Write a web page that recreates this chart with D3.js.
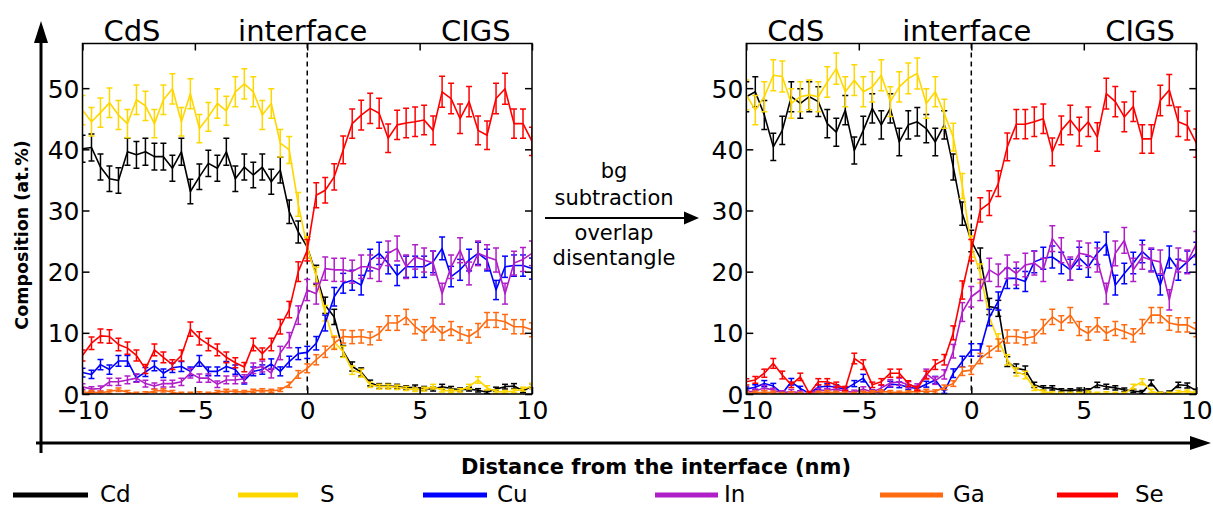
<!DOCTYPE html>
<html>
<head>
<meta charset="utf-8">
<script src="https://cdn.jsdelivr.net/npm/d3@7"></script>
<style>
  body { margin: 0; background: #fff; }
  text { font-family: "DejaVu Sans", sans-serif; }
</style>
</head>
<body>
<svg id="chart" width="1213" height="507"></svg>
<script>
// Composition profiles across the CdS/CIGS interface, before (raw) and after
// background subtraction + overlap disentangling (corr). One point every 0.4 nm.
const distance = [-10, -9.6, -9.2, -8.8, -8.4, -8, -7.6, -7.2, -6.8, -6.4, -6, -5.6, -5.2, -4.8, -4.4, -4,
  -3.6, -3.2, -2.8, -2.4, -2, -1.6, -1.2, -0.8, -0.4, 0, 0.4, 0.8, 1.2, 1.6, 2, 2.4, 2.8, 3.2, 3.6, 4,
  4.4, 4.8, 5.2, 5.6, 6, 6.4, 6.8, 7.2, 7.6, 8, 8.4, 8.8, 9.2, 9.6, 10];

const elements = ["Cd", "S", "Cu", "In", "Ga", "Se"];
const colors = ["#000000", "#ffd700", "#0000ff", "#b01ec8", "#ff6a10", "#ff0000"];
// error bar half-height ~ factor * sqrt(value)
const errFactor = [0.35, 0.35, 0.38, 0.42, 0.35, 0.36];

const xTicks = [-10, -5, 0, 5, 10];
const yTicks = [0, 10, 20, 30, 40, 50];
const regionLabels = ["CdS", "interface", "CIGS"];
const arrowText = ["bg", "subtraction", "overlap", "disentangle"];
const xTitle = "Distance from the interface (nm)";
const yTitle = "Composition (at.%)";

// ---- left panel (raw) ----
const cdRaw = [40.1, 40.3, 37.1, 35.2, 34.9, 39.6, 39.1, 39.6, 38.8, 38.8, 36.9, 39.6, 33.1, 35.5, 37.7, 36.9,
  39.6, 35.2, 37.1, 35.8, 37.1, 34.7, 36.6, 29.8, 26.5, 24.0, 19.5, 14.5, 12.6, 7.0, 4.5, 3.6, 1.8, 1.3, 1.3, 1.2,
  1.0, 1.1, 0.9, 0.8, 1.2, 0.9, 0.7, 0.8, 0.6, 0.3, 0.8, 1.2, 1.3, 0.5, 1.3];
const sRaw = [46.4, 44.5, 46.0, 47.6, 45.6, 44.2, 48.1, 47.1, 44.2, 48.1, 49.9, 44.5, 49.1, 43.4, 45.3, 47.5,
  46.3, 49.4, 50.7, 49.4, 45.6, 47.5, 41.0, 39.9, 31.0, 24.0, 19.2, 13.2, 8.5, 6.9, 3.9, 3.4, 1.5, 1.2, 1.2, 1.1,
  0.9, 0.7, 0.8, 1.2, 0.6, 0.5, 0.6, 1.2, 2.3, 1.0, 0.4, 0.3, 0.5, 0.8, 1.3];
const cuRaw = [3.5, 3.2, 4.8, 4.0, 5.4, 5.4, 2.6, 3.6, 4.6, 3.4, 4.3, 4.5, 3.7, 5.4, 3.7, 3.7,
  4.5, 4.0, 2.2, 3.7, 4.0, 4.9, 3.7, 5.3, 6.6, 6.8, 8.3, 11.6, 15.9, 18.1, 18.6, 17.8, 21.9, 23.0, 21.4, 19.4,
  20.8, 20.8, 20.8, 21.6, 23.8, 19.2, 20.3, 21.9, 23.0, 21.9, 17.0, 20.8, 21.0, 21.0, 20.5];
const inRaw = [1.2, 0.8, 0.9, 2.0, 2.0, 2.3, 2.6, 1.7, 1.3, 1.7, 1.7, 2.0, 3.4, 2.6, 2.6, 1.6,
  2.3, 2.3, 2.5, 4.2, 4.5, 3.4, 6.7, 8.8, 12.9, 17.0, 16.4, 20.5, 20.3, 20.3, 20.0, 20.8, 20.8, 20.3, 23.0, 23.8,
  20.8, 22.4, 21.9, 21.4, 16.4, 20.8, 23.5, 19.7, 23.0, 22.4, 21.9, 16.4, 21.4, 22.0, 23.0];
const gaRaw = [0.2, 0.3, 0.2, 0.4, 0.7, 0.3, 0.0, 0.1, 0.5, 0.6, 0.3, 0.0, 0.0, 0.1, 0.0, 0.3,
  0.5, 0.4, 0.3, 0.5, 0.6, 0.5, 0.7, 1.5, 3.2, 4.2, 5.6, 6.9, 8.3, 9.4, 9.3, 9.4, 9.1, 9.9, 11.6, 11.6,
  12.6, 11.0, 9.9, 11.3, 9.9, 10.7, 9.9, 9.4, 10.4, 12.1, 12.1, 11.8, 11.0, 11.0, 10.5];
const seRaw = [6.3, 8.3, 9.5, 9.4, 8.1, 7.5, 6.3, 4.1, 7.2, 6.0, 4.8, 6.3, 10.6, 9.1, 8.1, 7.2,
  6.0, 5.1, 4.4, 8.1, 6.6, 8.1, 11.0, 13.8, 20.0, 23.5, 32.5, 33.3, 35.5, 39.9, 44.2, 45.6, 46.7, 45.9, 41.8, 44.0,
  44.3, 44.5, 44.8, 43.1, 49.4, 48.3, 45.0, 47.8, 43.1, 42.3, 48.3, 49.9, 44.2, 44.2, 41.3];

// ---- right panel (bg subtracted, disentangled) ----
const cdCorr = [48.6, 49.4, 45.6, 40.4, 43.1, 48.6, 47.5, 48.6, 47.8, 44.2, 42.8, 46.4, 39.8, 43.1, 46.7, 44.0,
  46.7, 41.2, 44.0, 44.5, 43.4, 41.2, 44.0, 37.1, 29.5, 25.0, 22.2, 14.3, 14.0, 5.3, 4.2, 3.9, 1.5, 1.0, 1.0, 0.6,
  0.6, 0.7, 0.6, 1.5, 1.2, 1.0, 0.7, 0.5, 0.3, 1.8, 0.0, 0.2, 1.5, 1.4, 0.5];
const sCorr = [48.9, 46.4, 48.6, 52.1, 51.9, 47.5, 48.6, 48.9, 48.6, 51.0, 53.2, 49.4, 51.3, 49.4, 50.2, 52.1,
  47.8, 50.2, 51.6, 52.4, 47.5, 49.4, 45.8, 42.0, 34.0, 24.1, 19.7, 12.6, 8.8, 5.6, 3.6, 3.1, 0.9, 0.4, 0.1, 0.0,
  0.0, 0.0, 0.2, 0.0, 0.1, 0.0, 0.0, 1.2, 2.0, 0.5, 0.0, 0.0, 0.3, 0.4, 0.2];
const cuCorr = [0.8, 1.1, 1.7, 1.3, 0.1, 2.0, 0.9, 0.1, 1.1, 1.3, 1.1, 0.8, 1.7, 2.6, 0.4, 0.2,
  1.6, 1.5, 1.1, 0.9, 1.6, 2.3, 0.4, 3.4, 5.3, 7.2, 7.2, 12.5, 15.2, 18.9, 18.9, 18.4, 21.6, 22.2, 22.4, 21.4,
  20.3, 22.2, 20.8, 23.0, 24.6, 17.8, 19.7, 21.4, 23.3, 21.9, 17.8, 22.4, 20.3, 21.6, 23.0];
const inCorr = [0.3, 0.5, 1.0, 0.6, 0.2, 0.4, 0.2, 0.0, 0.6, 0.6, 0.8, 0.4, 0.3, 0.8, 0.3, 1.0,
  1.8, 2.0, 1.5, 1.2, 3.3, 2.2, 3.2, 7.0, 13.4, 15.9, 17.0, 20.3, 19.4, 20.8, 19.7, 21.1, 21.4, 20.3, 25.4, 23.5,
  20.5, 23.0, 22.7, 21.9, 16.4, 23.0, 25.1, 20.3, 22.4, 21.9, 21.6, 15.4, 21.9, 21.6, 24.5];
const gaCorr = [0.1, 0.2, 0.3, 0.2, 0.0, 0.1, 0.0, 0.0, 0.2, 0.3, 0.2, 0.1, 0.0, 0.2, 0.3, 0.4,
  0.3, 0.2, 0.3, 0.4, 0.5, 0.4, 1.1, 1.7, 3.7, 3.9, 5.8, 6.9, 8.0, 9.4, 9.4, 9.1, 9.4, 11.0, 12.6, 11.6,
  12.9, 10.7, 9.9, 11.3, 9.9, 10.7, 10.2, 9.6, 11.0, 12.9, 12.9, 11.6, 11.3, 11.3, 10.5];
const seCorr = [2.0, 2.3, 3.4, 5.0, 3.1, 1.5, 2.8, 0.1, 2.0, 2.0, 1.5, 0.9, 5.8, 4.8, 1.5, 2.0,
  3.4, 3.4, 1.7, 0.9, 3.1, 4.8, 5.6, 10.0, 17.0, 23.5, 30.1, 31.2, 34.4, 40.4, 44.1, 44.1, 44.5, 45.0, 39.6, 43.1,
  44.8, 42.9, 44.5, 42.0, 49.1, 47.8, 45.3, 47.0, 41.7, 41.7, 48.0, 49.7, 44.5, 43.9, 41.0];

const rawSeries = [cdRaw, sRaw, cuRaw, inRaw, gaRaw, seRaw];
const corrSeries = [cdCorr, sCorr, cuCorr, inCorr, gaCorr, seCorr];

// ---- layout ----
const W = 1213, H = 507;
const plotTop = 43.5, plotBottom = 394;
const panels = [
  { id: "raw", x0: 82.5, x1: 532, series: rawSeries },
  { id: "corr", x0: 746.3, x1: 1196.3, series: corrSeries }
];
const regionAt = [-7.8, -0.2, 7.5];

const svg = d3.select("#chart");
svg.append("rect").attr("width", W).attr("height", H).attr("fill", "#fff");

const defs = svg.append("defs");

function drawPanel(p) {
  const x = d3.scaleLinear().domain([-10, 10]).range([p.x0, p.x1]);
  const y = d3.scaleLinear().domain([0, 57.3]).range([plotBottom, plotTop]);
  const g = svg.append("g");

  defs.append("clipPath").attr("id", "clip-" + p.id)
    .append("rect").attr("x", p.x0).attr("y", plotTop)
    .attr("width", p.x1 - p.x0).attr("height", plotBottom - plotTop);

  // interface marker
  g.append("line")
    .attr("x1", x(0)).attr("x2", x(0)).attr("y1", plotTop).attr("y2", plotBottom)
    .attr("stroke", "#000").attr("stroke-width", 1.5).attr("stroke-dasharray", "5,4");

  const plot = g.append("g").attr("clip-path", `url(#clip-${p.id})`);
  const line = d3.line().x((d) => x(d[0])).y((d) => y(d[1]));

  p.series.forEach((vals, k) => {
    const pts = vals.map((v, i) => [distance[i], v]);
    const s = plot.append("g").attr("stroke", colors[k]).attr("fill", "none").attr("stroke-width", 1.5);
    s.append("path").attr("d", line(pts)).attr("stroke-width", 1.6).attr("stroke-linejoin", "round");
    const e = (v) => errFactor[k] * Math.sqrt(Math.max(v, 0.6));
    const bars = s.selectAll("g.eb").data(pts).join("g").attr("class", "eb");
    bars.append("line")
      .attr("x1", (d) => x(d[0])).attr("x2", (d) => x(d[0]))
      .attr("y1", (d) => y(d[1] - e(d[1]))).attr("y2", (d) => y(d[1] + e(d[1])));
    [-1, 1].forEach((sg) => {
      bars.append("line")
        .attr("x1", (d) => x(d[0]) - 3).attr("x2", (d) => x(d[0]) + 3)
        .attr("y1", (d) => y(d[1] + sg * e(d[1]))).attr("y2", (d) => y(d[1] + sg * e(d[1])));
    });
  });

  // axes, matplotlib style: inward ticks on all four sides
  const tk = (sel) => sel.call((a) => a.select(".domain").remove())
    .call((a) => a.selectAll(".tick line").attr("stroke", "#000").attr("stroke-width", 1.5));

  g.append("g").attr("transform", `translate(0,${plotBottom})`)
    .call(d3.axisBottom(x).tickValues(xTicks).tickSize(-7).tickPadding(0))
    .call(tk)
    .call((a) => a.selectAll(".tick text")
      .attr("y", 25).attr("dy", null).attr("fill", "#000")
      .attr("font-size", 25).attr("font-family", "DejaVu Sans"));
  g.append("g").attr("transform", `translate(0,${plotTop})`)
    .call(d3.axisTop(x).tickValues(xTicks).tickSize(-7).tickFormat(""))
    .call(tk);
  g.append("g").attr("transform", `translate(${p.x0},0)`)
    .call(d3.axisLeft(y).tickValues(yTicks).tickSize(-7).tickPadding(0))
    .call(tk)
    .call((a) => a.selectAll(".tick text")
      .attr("x", -3).attr("dy", "0.36em").attr("fill", "#000")
      .attr("font-size", 25).attr("font-family", "DejaVu Sans"));
  g.append("g").attr("transform", `translate(${p.x1},0)`)
    .call(d3.axisRight(y).tickValues(yTicks).tickSize(-7).tickFormat(""))
    .call(tk);

  g.append("rect")
    .attr("x", p.x0).attr("y", plotTop).attr("width", p.x1 - p.x0).attr("height", plotBottom - plotTop)
    .attr("fill", "none").attr("stroke", "#000").attr("stroke-width", 1.5);

  g.selectAll("text.region").data(regionLabels).join("text")
    .attr("class", "region")
    .attr("x", (d, i) => x(regionAt[i])).attr("y", 41)
    .attr("text-anchor", "middle").attr("font-size", 29).attr("fill", "#000")
    .text((d) => d);
}

panels.forEach(drawPanel);

// outer axes arrows
const ax = svg.append("g").attr("stroke", "#000").attr("fill", "#000");
ax.append("line").attr("x1", 41).attr("x2", 41).attr("y1", 453).attr("y2", 40).attr("stroke-width", 3);
ax.append("path").attr("d", "M41,21L34,43L48,43Z").attr("stroke", "none");
ax.append("line").attr("x1", 36).attr("x2", 1192).attr("y1", 443).attr("y2", 443).attr("stroke-width", 3);
ax.append("path").attr("d", "M1211,443L1190,436L1190,450Z").attr("stroke", "none");

// processing arrow between panels
ax.append("line").attr("x1", 545).attr("x2", 688).attr("y1", 218).attr("y2", 218).attr("stroke-width", 2);
ax.append("path").attr("d", "M699,218L684,211.5L684,224.5Z").attr("stroke", "none");

svg.selectAll("text.step").data(arrowText).join("text")
  .attr("class", "step")
  .attr("x", 614).attr("y", (d, i) => [178, 205, 240, 265][i])
  .attr("text-anchor", "middle").attr("font-size", 21).attr("fill", "#000")
  .text((d) => d);

svg.append("text")
  .attr("x", 656).attr("y", 474).attr("text-anchor", "middle")
  .attr("font-size", 21).attr("font-weight", "bold").text(xTitle);

svg.append("text")
  .attr("transform", "translate(28,235) rotate(-90)")
  .attr("text-anchor", "middle").attr("font-size", 17.5).attr("font-weight", "bold").text(yTitle);

// legend: [line start, line end, label start] per element
const legLine = [[13, 88], [238, 298], [423, 487], [655, 718], [880, 943], [1057, 1118]];
const legText = [100, 320, 497, 724, 953, 1135];
const leg = svg.append("g");
elements.forEach((el, k) => {
  leg.append("line")
    .attr("x1", legLine[k][0]).attr("x2", legLine[k][1]).attr("y1", 495).attr("y2", 495)
    .attr("stroke", colors[k]).attr("stroke-width", 5);
  leg.append("text")
    .attr("x", legText[k]).attr("y", 502)
    .attr("font-size", 23).attr("fill", "#000").text(el);
});
</script>
</body>
</html>
